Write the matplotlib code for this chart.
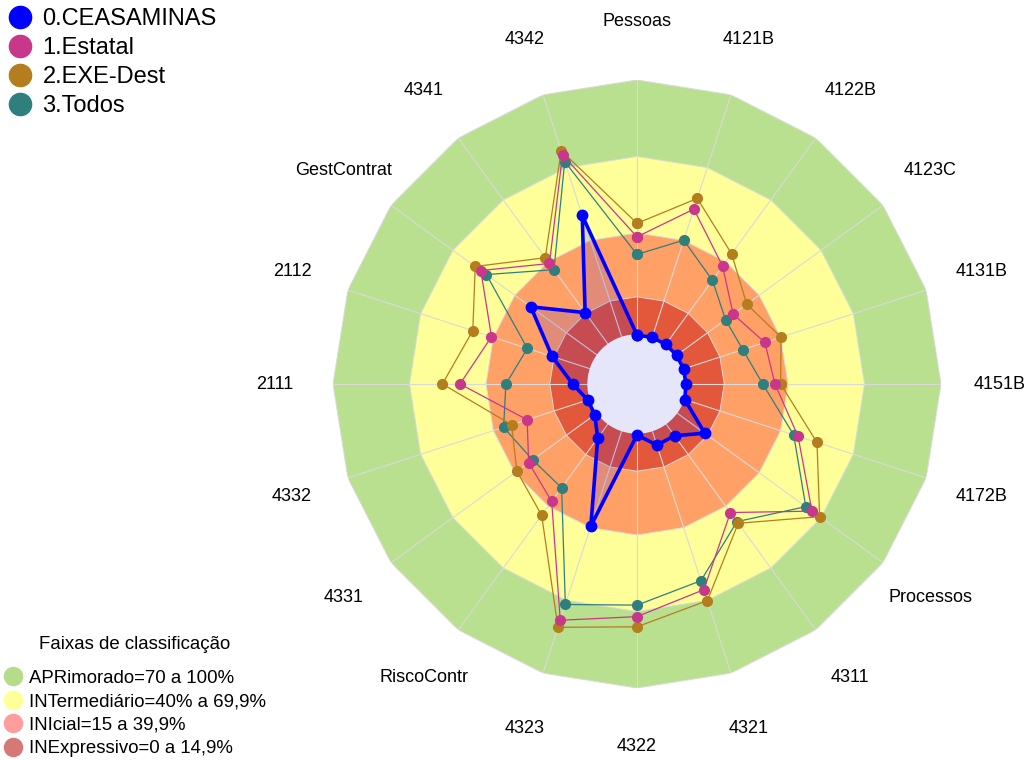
import numpy as np
import matplotlib
matplotlib.use('Agg')
import matplotlib.pyplot as plt
from matplotlib.lines import Line2D

plt.rcParams['font.family'] = ['Liberation Sans', 'DejaVu Sans']

# categories clockwise from the top
categories = ['Pessoas', '4121B', '4122B', '4123C', '4131B', '4151B', '4172B',
              'Processos', '4311', '4321', '4322', '4323', 'RiscoContr', '4331',
              '4332', '2111', '2112', 'GestContrat', '4341', '4342']

# scores (0-100)
ceasaminas = [0, 0, 0, 0, 0, 0, 0.5, 13.6, 5.9, 6.0, 0.8, 39.4, 7.0, 1.3,
              1.1, 6.0, 15.8, 32.3, 15.4, 50.3]
estatal = [38.5, 52.9, 37.9, 27.4, 33.5, 34.9, 47.2, 65.6, 43.1, 65.6, 72.0,
           78.2, 37.7, 33.3, 26.1, 50.2, 40.8, 56.5, 39.2, 75.3]
exe_dest = [43.8, 57.3, 43.9, 34.0, 40.2, 37.1, 55.0, 69.3, 48.3, 70.1, 76.0,
            81.1, 44.4, 39.0, 32.5, 57.1, 48.5, 59.2, 42.0, 77.0]
todos = [31.6, 40.1, 31.1, 23.7, 24.4, 30.1, 45.4, 62.6, 47.5, 61.9, 67.5,
         71.7, 31.1, 31.4, 35.8, 32.2, 26.0, 53.8, 36.2, 72.5]

series_names = ['0.CEASAMINAS', '1.Estatal', '2.EXE-Dest', '3.Todos']
series_colors = ['#0000FF', '#C9378A', '#B47D1E', '#2F7F7F']

# classification bands (upper limits)
band_limits = [100, 70, 40, 15]
band_colors = ['#B9E08F', '#FFFF99', '#FFA066', '#E3573A']
band_labels = ['APRimorado=70 a 100%', 'INTermediário=40% a 69,9%',
               'INIcial=15 a 39,9%', 'INExpressivo=0 a 14,9%']
band_legend_colors = ['#B5DC88', '#FFFF99', '#FF9C9C', '#D67878']

n = len(categories)
angles = np.arange(n) * 2 * np.pi / n
closed = np.append(angles, angles[0])


def close(vals):
    return np.append(vals, vals[0])


fig = plt.figure(figsize=(10.29, 7.61), dpi=100)
ax = fig.add_axes([0.3236, 0.0959, 0.5909, 0.799], projection='polar')
ax.set_theta_zero_location('N')
ax.set_theta_direction(-1)
ax.set_ylim(-19.2, 100)
ax.axis('off')

# background bands
for lim, col in zip(band_limits, band_colors):
    ax.fill(closed, np.full(n + 1, lim), color=col, ec='#DADADA', lw=0.7, zorder=1)

# spokes
for a in angles:
    ax.plot([a, a], [0, 100], color='#DADADA', lw=0.8, zorder=2)

# blue area, then the central hole on top of it
ax.fill(closed, close(ceasaminas), color='#0000FF', alpha=0.12, lw=0, zorder=2.5)
theta_fine = np.linspace(0, 2 * np.pi, 361)
ax.fill(theta_fine, np.zeros_like(theta_fine), color='#E6E6FA', zorder=2.6)

# series
ax.plot(closed, close(todos), color=series_colors[3], lw=0.9, marker='o', ms=7, zorder=3)
ax.plot(closed, close(exe_dest), color=series_colors[2], lw=0.9, marker='o', ms=7, zorder=3.1)
ax.plot(closed, close(estatal), color=series_colors[1], lw=0.9, marker='o', ms=7, zorder=3.2)
ax.plot(closed, close(ceasaminas), color=series_colors[0], lw=2.6, marker='o', ms=7.5, zorder=4)

# category labels
for a, lab in zip(angles, categories):
    ax.text(a, 123, lab, ha='center', va='center', fontsize=13)

# legends
h1 = [Line2D([], [], ls='none', marker='o', ms=16, color=c) for c in series_colors]
fig.legend(h1, series_names, loc='upper left', bbox_to_anchor=(0.0, 1.0),
           frameon=False, fontsize=17, handlelength=1.0, handletextpad=0.45,
           labelspacing=0.29, borderpad=0.35, borderaxespad=0)

h2 = [Line2D([], [], ls='none', marker='o', ms=13, color=c, mec=c) for c in band_legend_colors]
leg2 = fig.legend(h2, band_labels, loc='lower left', bbox_to_anchor=(0.0, 0.0),
                  frameon=False, fontsize=13.4, title='Faixas de classificação',
                  title_fontsize=13.4, handlelength=1.0, handletextpad=0.35,
                  labelspacing=0.35, borderpad=0.2, borderaxespad=0)
leg2._legend_box.sep = 12

fig.savefig('out.png', dpi=100)
